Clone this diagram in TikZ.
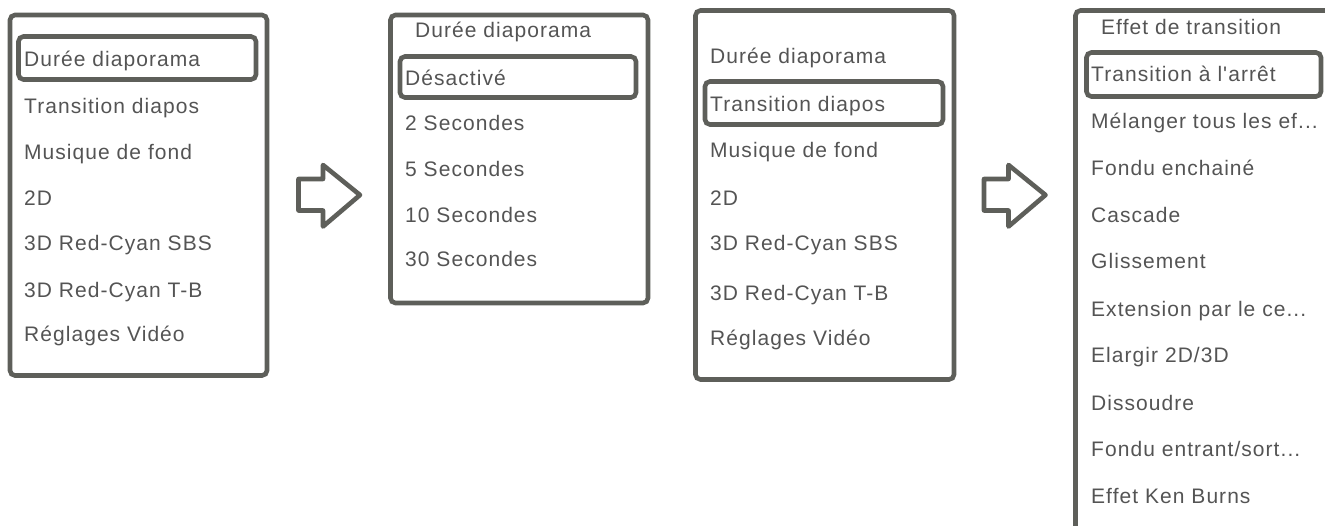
\documentclass[tikz,border=0pt]{standalone}
\usepackage{fontspec}
\newfontfamily\uifont{Liberation Sans}[LetterSpace=5]
\definecolor{frame}{RGB}{94,95,90}
\definecolor{label}{RGB}{84,84,84}
\tikzset{
  panel/.style={draw=frame, line width=4.6pt, rounded corners=5pt},
  selbox/.style={draw=frame, line width=4.6pt, rounded corners=5pt},
  blockarrow/.style={draw=frame, line width=4.6pt, line join=round, fill=white},
  item/.style={anchor=base west, inner sep=0pt, text=label,
    font=\uifont\fontsize{21}{25}\selectfont},
}
\begin{document}
\begin{tikzpicture}[x=1pt,y=-1pt]
\useasboundingbox (0,0) rectangle (1325,525);
\clip (0,0) rectangle (1325,525);

% main menu
\draw[panel]  (10,15) rectangle (267,375.5);
\draw[selbox] (18.5,36.5) rectangle (256,79.5);
\node[item] (m1) at (24,66.7)  {Durée diaporama};
\node[item] (m2) at (24,113)   {Transition diapos};
\node[item] (m3) at (24,159.3) {Musique de fond};
\node[item] (m4) at (24,205)   {2D};
\node[item] (m5) at (24,250)   {3D Red-Cyan SBS};
\node[item] (m6) at (24,297.5) {3D Red-Cyan T-B};
\node[item] (m7) at (24,341.7) {Réglages Vidéo};

% first arrow
\draw[blockarrow] (298.5,179) -- (323,179) -- (323,165) -- (360,195)
  -- (323,226.5) -- (323,210.5) -- (298.5,210.5) -- cycle;

% duration submenu
\draw[panel]  (390.5,15) rectangle (648,303);
\draw[selbox] (400,56.5) rectangle (636,97.5);
\node[item] (d0) at (415,37.3)  {Durée diaporama};
\node[item] (d1) at (405,85)    {Désactivé};
\node[item] (d2) at (405,130.7) {2 Secondes};
\node[item] (d3) at (405,176.7) {5 Secondes};
\node[item] (d4) at (405,222.7) {10 Secondes};
\node[item] (d5) at (405,266.7) {30 Secondes};

% main menu, transition selected
\draw[panel]  (695.5,10.5) rectangle (954,379.5);
\draw[selbox] (705,81.5) rectangle (943,124.5);
\node[item] (n1) at (710,63.3)  {Durée diaporama};
\node[item] (n2) at (710,111)   {Transition diapos};
\node[item] (n3) at (710,157.7) {Musique de fond};
\node[item] (n4) at (710,205)   {2D};
\node[item] (n5) at (710,250.7) {3D Red-Cyan SBS};
\node[item] (n6) at (710,300)   {3D Red-Cyan T-B};
\node[item] (n7) at (710,345)   {Réglages Vidéo};

% second arrow
\draw[blockarrow] (984,179) -- (1008.5,179) -- (1008.5,165) -- (1045.5,195)
  -- (1008.5,226.5) -- (1008.5,210.5) -- (984,210.5) -- cycle;

% transition effect submenu
\draw[panel]  (1075.5,10.5) rectangle (1360,560);
\draw[selbox] (1086.5,52.5) rectangle (1321,96.5);
\node[item] (t0)  at (1101,34)    {Effet de transition};
\node[item] (t1)  at (1091,81.7)  {Transition à l'arrêt};
\node[item] (t2)  at (1091,128.7) {Mélanger tous les ef...};
\node[item] (t3)  at (1091,175.7) {Fondu enchainé};
\node[item] (t4)  at (1091,222.7) {Cascade};
\node[item] (t5)  at (1091,268.3) {Glissement};
\node[item] (t6)  at (1091,316)   {Extension par le ce...};
\node[item] (t7)  at (1091,362.3) {Elargir 2D/3D};
\node[item] (t8)  at (1091,410)   {Dissoudre};
\node[item] (t9)  at (1091,456)   {Fondu entrant/sort...};
\node[item] (t10) at (1091,503.3) {Effet Ken Burns};
\end{tikzpicture}
\end{document}
